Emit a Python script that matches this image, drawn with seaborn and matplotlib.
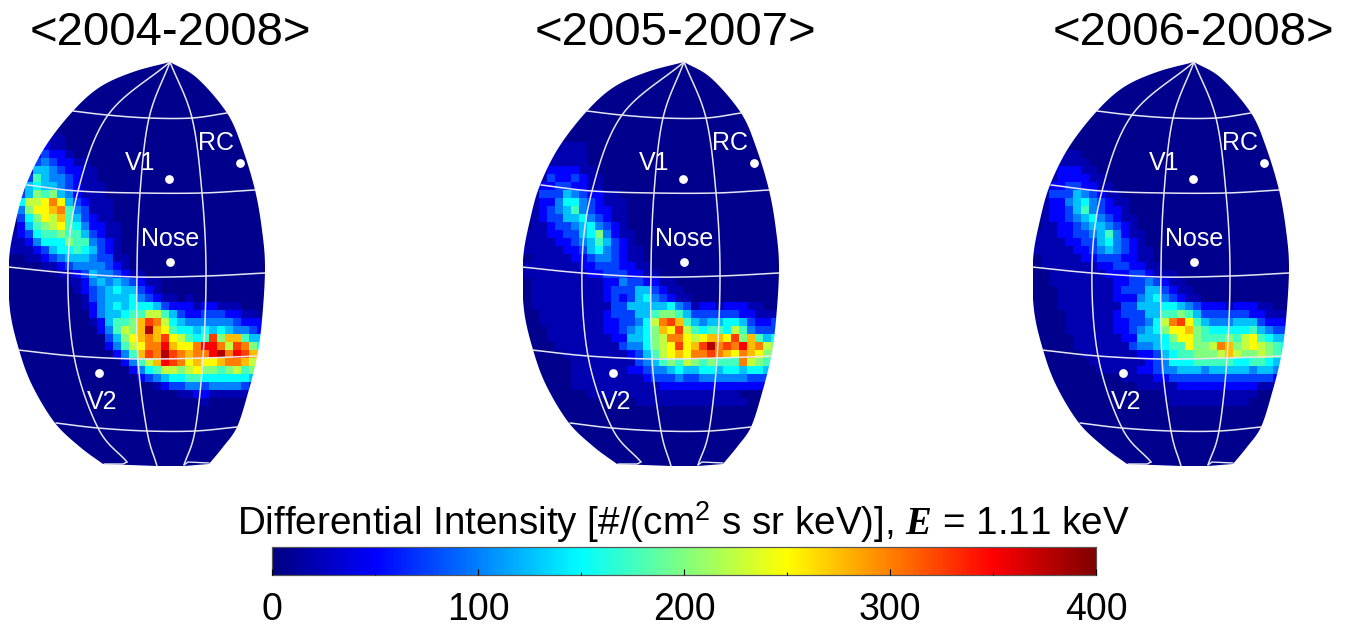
import numpy as np
import matplotlib
matplotlib.use("Agg")
import matplotlib.pyplot as plt
from matplotlib.colors import LinearSegmentedColormap
from matplotlib.path import Path
from matplotlib.patches import PathPatch
import seaborn as sns

W, H = 1358, 629
sns.set_theme(style="white")
plt.rcParams["font.family"] = ["Liberation Sans", "DejaVu Sans"]
plt.rcParams["mathtext.fontset"] = "custom"
plt.rcParams["mathtext.rm"] = "Liberation Sans"
plt.rcParams["mathtext.bfit"] = "Liberation Serif:italic:bold"

# Readings per map cell, one hex digit per cell (see LEVELS), first row y=138 px
LEVELS = [5, 20, 50, 75, 100, 125, 150, 175, 200, 225, 250, 275, 300, 325, 350, 380]
MAP_2004_2008 = """
00000110 00000000 00000000 00000000
00002110 00000000 00000000 00000000
00023221 00000000 00000000 00000000
00034322 11000000 00000000 00000000
00255432 21100000 00000000 00000000
00375443 21100000 00000000 00000000
00565543 21110000 00000000 00000000
03587854 21110000 00000000 00000000
0699aca5 32111000 00000000 00000000
048aabc7 43111000 00000000 00000000
0368a9b7 53211000 00000000 00000000
025789a7 64221100 00000000 00000000
12367787 75321100 00000000 00000000
11246668 77432100 00000000 00000000
11123566 76532100 00000000 00000000
00112345 55433110 00000000 00000000
00001123 44443210 00000000 00000000
00000011 23544321 10000000 00000000
00000001 12454543 21100000 00000000
00000000 12345655 32100000 00000000
00000000 01345556 43211010 00000000
00000000 01245656 66532221 22111000
00000000 00245567 79975322 33322110
00000000 00125778 bdc96544 44443222
00000000 00024798 bfba7665 65654432
00000000 0000358a bcbda976 7d8bb755
00000000 00002479 accebaac eec9dc86
00000000 00000247 bdcfdcbc cefcedb7
00000000 00000024 79bedcab aabccb98
00000000 00000002 4679989a 88789786
00000000 00000000 23456677 66666654
00000000 00000000 00123344 34444321
00000000 00000000 00000112 21111100
00000000 00000000 00000000 10000000
"""
MAP_2005_2007 = """
00000000 00000000 00000000 00000000
00001111 00000000 00000000 00000000
00011111 00000000 00000000 00000000
00011111 00000000 00000000 00000000
00122221 10000000 00000000 00000000
00132232 11000000 00000000 00000000
00223322 11000000 00000000 00000000
01333543 22110000 00000000 00000000
01224664 32111000 00000000 00000000
01234574 32211000 00000000 00000000
01233556 43211000 00000000 00000000
01123345 64321000 00000000 00000000
11122335 68421100 00000000 00000000
11112234 57532100 00000000 00000000
11111223 56432110 00000000 00000000
01111122 34432110 00000000 00000000
11111112 23332211 00000000 00000000
11111111 22333221 10000000 00000000
01111111 11224332 21100000 00000000
01111111 11233355 32110000 00000000
01111111 11232356 43211000 00000000
01111111 11133555 55643122 12221100
00111111 11233355 78875333 33322111
00111111 11223346 9cdb7545 56653223
00011111 11223456 8bad9767 76974333
00011111 11122556 89cca9ab bad8b756
00001111 11113446 89adabdf cdcebc98
00000111 11111235 79abaccd cbacba87
00000011 11111134 57879878 777c9876
00000011 11111223 44565566 56656654
00000011 11111112 33343344 44443332
00000011 11111111 12222222 22222211
00000000 11111111 11111111 11100000
00000000 00000011 11111111 11110000
"""
MAP_2006_2008 = """
00000000 00000000 00000000 00000000
00000000 00000000 00000000 00000000
00011100 00000000 00000000 00000000
00011110 00000000 00000000 00000000
00122211 00000000 00000000 00000000
00122221 10000000 00000000 00000000
00223322 11000000 00000000 00000000
01333543 21100000 00000000 00000000
01224564 32110000 00000000 00000000
01223574 32210000 00000000 00000000
01223456 43211000 00000000 00000000
01122345 54321000 00000000 00000000
11122334 57421100 00000000 00000000
11112233 56432100 00000000 00000000
11111223 45432110 00000000 00000000
01111122 33322110 00000000 00000000
01111111 22332211 00000000 00000000
00111111 12223321 11000000 00000000
00111111 11223343 21100000 00000000
00011111 11233355 32110000 00000000
00011111 11222456 43211000 00000000
00011111 11133555 66543222 12221100
00001111 11233355 77875333 33322111
00001111 11223346 9cda7544 45553222
00001111 11223456 8aab8766 66675433
00000111 11122555 68aa8777 879a7655
00000111 11113445 677a889c b89a9876
00000011 11111223 56778889 b9889876
00000001 11111123 46667777 76677655
00000000 11111223 44555455 55545544
00000000 00011112 23333333 33333322
00000000 00000111 11222222 22221111
00000000 00000000 11111111 11110000
00000000 00000000 01111111 11100000
"""
MAPS = [MAP_2004_2008, MAP_2005_2007, MAP_2006_2008]
TITLES = ["<2004-2008>", "<2005-2007>", "<2006-2008>"]
TITLE_X = [170, 675, 1193]
PANEL_OFFSETS = [0, 514, 1024]
CB_TICKS = [0, 100, 200, 300, 400]
CB_MINOR = [50, 150, 250, 350]

X0, Y0, CELL, NCOL, NROW, FIRST_ROW = 9, 62, 8, 32, 51, 9

OUTLINE_LEFT = [(170, 62), (133, 72), (100, 87), (73, 111), (45, 147), (26, 185), (16, 220),
                (9, 260), (10, 310), (20, 353), (33, 387), (55, 423), (80, 447), (103, 464)]
OUTLINE_RIGHT = [(209, 464), (223, 447), (237, 427), (248, 393), (257, 357), (262, 320), (265, 268),
                 (262, 230), (255, 190), (242, 147), (227, 113), (197, 78), (170, 62)]
PARALLELS = [[(73, 111), (107, 115), (149, 118), (192, 118), (227, 113)],
             [(27, 185), (78, 191), (140, 193), (202, 193), (255, 190)],
             [(8, 267), (68, 273), (137, 277), (206, 276), (265, 273)],
             [(18, 350), (74, 356), (138, 359), (203, 358), (258, 356)],
             [(56, 423), (98, 428), (147, 431), (195, 431), (237, 427)]]
MERIDIANS = [[(170, 62), (108, 115), (78, 191), (68, 266), (74, 356), (98, 428), (127, 462)],
             [(170, 62), (149, 118), (140, 193), (137, 270), (138, 359), (147, 431), (157, 466)],
             [(170, 62), (192, 118), (202, 193), (206, 270), (203, 358), (195, 431), (184, 465)]]
HOOKS = [[(127, 462), (123, 464), (104, 464)], [(184, 465), (188, 462), (209, 463)]]
LABELS = [("V1", 140, 163), ("RC", 216, 143), ("Nose", 170, 239), ("V2", 102, 402)]
DOTS = [(169, 179), (240, 163), (170, 262), (98.5, 373)]

JET = LinearSegmentedColormap.from_list(
    "matlab_jet", [(0, (0, 0, .5)), (1 / 8, (0, 0, 1)), (3 / 8, (0, 1, 1)), (5 / 8, (1, 1, 0)),
                   (7 / 8, (1, 0, 0)), (1, (.5, 0, 0))], N=256)


def decode(text):
    rows = [r.replace(" ", "") for r in text.strip().splitlines()]
    grid = np.full((NROW, NCOL), float(LEVELS[0]))
    for j, r in enumerate(rows):
        for i, c in enumerate(r[:NCOL]):
            grid[FIRST_ROW + j, i] = LEVELS[int(c, 16)]
    return grid


def cx(p):
    return (np.asarray(p, float) - X0) / CELL


def cy(p):
    return (np.asarray(p, float) - Y0) / CELL


def smooth(points, n=14):
    p = np.array(points, float)
    q = np.vstack([2 * p[0] - p[1], p, 2 * p[-1] - p[-2]])
    t = np.linspace(0, 1, n, endpoint=False)[:, None]
    out = []
    for k in range(1, len(q) - 2):
        a, b, c, d = q[k - 1], q[k], q[k + 1], q[k + 2]
        out.append(0.5 * (2 * b + (c - a) * t + (2 * a - 5 * b + 4 * c - d) * t ** 2
                          + (3 * b - a - 3 * c + d) * t ** 3))
    out.append(p[-1:])
    return np.vstack(out)


fig = plt.figure(figsize=(W / 100, H / 100), dpi=100, facecolor="white")
cax = fig.add_axes([272 / W, 1 - 575 / H, 824 / W, 28 / H])

for idx, (m, title, tx, off) in enumerate(zip(MAPS, TITLES, TITLE_X, PANEL_OFFSETS)):
    ax = fig.add_axes([(X0 + off) / W, 1 - (Y0 + NROW * CELL) / H, NCOL * CELL / W, NROW * CELL / H])
    sns.heatmap(decode(m), ax=ax, cmap=JET, vmin=0, vmax=400, xticklabels=False, yticklabels=False,
                cbar=idx == 0, cbar_ax=cax if idx == 0 else None,
                cbar_kws={"orientation": "horizontal"} if idx == 0 else None)
    ax.axis("off")
    # white surround outside the map's outline
    outline = np.vstack([smooth(OUTLINE_LEFT), [[157, 466], [184, 466]], smooth(OUTLINE_RIGHT)])
    ring = np.column_stack([cx(outline[:, 0]), cy(outline[:, 1])])
    rect = np.array([[-1, -1], [NCOL + 1, -1], [NCOL + 1, NROW + 1], [-1, NROW + 1], [-1, -1]], float)
    verts = np.vstack([rect, ring, ring[:1]])
    codes = ([Path.MOVETO] + [Path.LINETO] * 3 + [Path.CLOSEPOLY]
             + [Path.MOVETO] + [Path.LINETO] * (len(ring) - 1) + [Path.CLOSEPOLY])
    ax.add_patch(PathPatch(Path(verts, codes), facecolor="white", edgecolor="none", clip_on=False, zorder=2))
    for line in PARALLELS + MERIDIANS:
        s = smooth(line)
        ax.plot(cx(s[:, 0]), cy(s[:, 1]), color="#e6e6f0", lw=1.1, clip_on=False, zorder=3)
    for line in HOOKS:
        s = np.array(line, float)
        ax.plot(cx(s[:, 0]), cy(s[:, 1]), color="#e6e6f0", lw=1.0, clip_on=False, zorder=3)
    ax.scatter(cx([d[0] for d in DOTS]), cy([d[1] for d in DOTS]), s=40, color="white", linewidths=0, zorder=5)
    for txt, x, y in LABELS:
        ax.text(cx(x), cy(y), txt, color="white", fontsize=18, ha="center", va="center", zorder=6)
    fig.text(tx / W, 1 - 33 / H, title, fontsize=34, ha="center", va="center", color="black")

cax.set_xlim(0, 400)
cax.set_axisbelow(False)
cax.set_xticks(CB_TICKS)
cax.set_xticklabels([str(t) for t in CB_TICKS], fontsize=27)
cax.set_xticks(CB_MINOR, minor=True)
cax.tick_params(axis="x", which="major", direction="in", length=4.5, width=0.8, color="black",
                pad=12, bottom=True, labelcolor="black")
cax.tick_params(axis="x", which="minor", direction="in", length=2.5, width=0.8, color="black", bottom=True)
for tick in cax.xaxis.get_major_ticks() + cax.xaxis.get_minor_ticks():
    tick.set_zorder(10)
for sp in cax.spines.values():
    sp.set_visible(True)
    sp.set_color("#555555")
    sp.set_linewidth(0.8)

fig.text(684 / W, 1 - 522 / H,
         r"Differential Intensity [#/(cm$^{\mathregular{2}}$ s sr keV)], $\mathbfit{E}$ = 1.11 keV",
         fontsize=27.8, ha="center", va="center", color="black")

fig.savefig("out.png", dpi=100)
